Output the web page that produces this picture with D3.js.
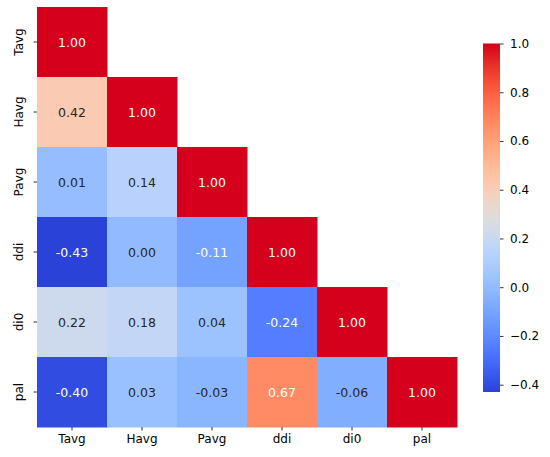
<!DOCTYPE html>
<html>
<head>
<meta charset="utf-8">
<script src="https://cdn.jsdelivr.net/npm/d3@7"></script>
<style>
  body { margin: 0; background: #fff; }
  text { font-family: "DejaVu Sans", sans-serif; }
</style>
</head>
<body>
<div></div>
<script>
// lower-triangle correlation heatmap, coolwarm colours, colorbar on the right

const variables = ['Tavg', 'Havg', 'Pavg', 'ddi', 'di0', 'pal'];

// rows of the lower triangle, diagonal included
const corrRows = [
  [1.00],
  [0.42, 1.00],
  [0.01, 0.14, 1.00],
  [-0.43, 0.00, -0.11, 1.00],
  [0.22, 0.18, 0.04, -0.24, 1.00],
  [-0.40, 0.03, -0.03, 0.67, -0.06, 1.00],
];

const colorbarTicks = [-0.4, -0.2, 0.0, 0.2, 0.4, 0.6, 0.8, 1.0];

// matplotlib coolwarm, 33 stops
const coolwarmStops = [
  [0.2298, 0.2987, 0.7537], [0.2662, 0.3531, 0.8015], [0.3039, 0.4065, 0.8450],
  [0.3428, 0.4588, 0.8837], [0.3830, 0.5094, 0.9174], [0.4244, 0.5581, 0.9456],
  [0.4667, 0.6046, 0.9682], [0.5096, 0.6483, 0.9848], [0.5530, 0.6889, 0.9954],
  [0.5963, 0.7261, 0.9998], [0.6392, 0.7596, 0.9982], [0.6813, 0.7890, 0.9904],
  [0.7222, 0.8140, 0.9766], [0.7615, 0.8343, 0.9569], [0.7987, 0.8498, 0.9317],
  [0.8335, 0.8602, 0.9011], [0.8654, 0.8654, 0.8654], [0.8978, 0.8489, 0.8209],
  [0.9241, 0.8274, 0.7745], [0.9445, 0.8009, 0.7267], [0.9589, 0.7698, 0.6780],
  [0.9673, 0.7341, 0.6288], [0.9700, 0.6943, 0.5794], [0.9668, 0.6504, 0.5303],
  [0.9580, 0.6028, 0.4818], [0.9437, 0.5518, 0.4342], [0.9239, 0.4973, 0.3880],
  [0.8990, 0.4396, 0.3432], [0.8692, 0.3783, 0.3003], [0.8346, 0.3129, 0.2593],
  [0.7956, 0.2413, 0.2205], [0.7525, 0.1572, 0.1841], [0.7057, 0.0156, 0.1502],
].map(c => {
  // the picture is a bit more saturated than stock coolwarm: push channels away from their mean
  const rgb = c.map(v => v * 255);
  const mean = (rgb[0] + rgb[1] + rgb[2]) / 3;
  const [r, g, b] = rgb.map(v => Math.max(0, Math.min(255, mean + 1.3 * (v - mean))));
  return d3.rgb(r, g, b);
});

const coolwarm = d3.scaleLinear()
  .domain(d3.range(coolwarmStops.length).map(i => i / (coolwarmStops.length - 1)))
  .range(coolwarmStops)
  .interpolate(d3.interpolateRgb)
  .clamp(true);

const cells = [];
corrRows.forEach((row, r) => {
  row.forEach((v, c) => cells.push({ row: variables[r], col: variables[c], value: v }));
});

const vmin = d3.min(cells, d => d.value);
const vmax = d3.max(cells, d => d.value);
const norm = d3.scaleLinear().domain([vmin, vmax]).range([0, 1]);
const colorOf = v => coolwarm(norm(v));

function luminance(c) {
  const ch = [c.r, c.g, c.b].map(x => {
    x /= 255;
    return x <= 0.03928 ? x / 12.92 : Math.pow((x + 0.055) / 1.055, 2.4);
  });
  return 0.2126 * ch[0] + 0.7152 * ch[1] + 0.0722 * ch[2];
}

function createHeatmap() {
  const WIDTH = 550, HEIGHT = 457;
  const grid = { left: 37, top: 7, size: 420 };

  const svg = d3.select('div').append('svg')
    .attr('width', WIDTH)
    .attr('height', HEIGHT);

  const x = d3.scaleBand().domain(variables).range([grid.left, grid.left + grid.size]);
  const y = d3.scaleBand().domain(variables).range([grid.top, grid.top + grid.size]);

  svg.append('g')
    .selectAll('rect')
    .data(cells)
    .enter()
    .append('rect')
    .attr('x', d => x(d.col))
    .attr('y', d => y(d.row))
    .attr('width', x.bandwidth() + 0.5)
    .attr('height', y.bandwidth() + 0.5)
    .attr('fill', d => colorOf(d.value));

  svg.append('g')
    .selectAll('text')
    .data(cells)
    .enter()
    .append('text')
    .attr('x', d => x(d.col) + x.bandwidth() / 2)
    .attr('y', d => y(d.row) + y.bandwidth() / 2)
    .attr('text-anchor', 'middle')
    .attr('dominant-baseline', 'central')
    .attr('font-size', 12.5)
    .attr('fill', d => luminance(d3.rgb(colorOf(d.value))) > 0.408 ? '#262626' : '#ffffff')
    .text(d => d.value.toFixed(2));

  const xAxis = svg.append('g')
    .attr('transform', `translate(0,${grid.top + grid.size})`)
    .call(d3.axisBottom(x).tickSize(3.5).tickPadding(3.5));
  xAxis.select('.domain').remove();
  xAxis.selectAll('text').attr('font-size', 12).attr('fill', '#000')
    .style('font-family', '"DejaVu Sans", sans-serif');
  xAxis.selectAll('line').attr('stroke', '#333');

  const yAxis = svg.append('g')
    .attr('transform', `translate(${grid.left},0)`)
    .call(d3.axisLeft(y).tickSize(3.5).tickPadding(0));
  yAxis.select('.domain').remove();
  yAxis.selectAll('line').attr('stroke', '#333');
  yAxis.selectAll('text')
    .attr('font-size', 12).attr('fill', '#000')
    .style('font-family', '"DejaVu Sans", sans-serif')
    .attr('x', null).attr('dy', null)
    .attr('text-anchor', 'middle')
    .attr('transform', 'translate(-14.5,0) rotate(-90)');

  // colorbar
  const cb = { x: 483, top: 43.5, bottom: 392, width: 17 };
  const cbScale = d3.scaleLinear().domain([vmin, vmax]).range([cb.bottom, cb.top]);

  const defs = svg.append('defs');
  const grad = defs.append('linearGradient')
    .attr('id', 'cbgrad')
    .attr('x1', 0).attr('y1', 1).attr('x2', 0).attr('y2', 0);
  grad.selectAll('stop')
    .data(d3.range(0, 1.0001, 1 / 64))
    .enter()
    .append('stop')
    .attr('offset', d => d)
    .attr('stop-color', d => coolwarm(d));

  svg.append('rect')
    .attr('x', cb.x)
    .attr('y', cb.top)
    .attr('width', cb.width)
    .attr('height', cb.bottom - cb.top)
    .attr('fill', 'url(#cbgrad)');

  const cbAxis = svg.append('g')
    .attr('transform', `translate(${cb.x + cb.width},0)`)
    .call(d3.axisRight(cbScale)
      .tickValues(colorbarTicks)
      .tickSize(3.5)
      .tickPadding(6.5)
      .tickFormat(d => d3.format('.1f')(d).replace('-', '\u2212')));
  cbAxis.select('.domain').remove();
  cbAxis.selectAll('line').attr('stroke', '#333');
  cbAxis.selectAll('text').attr('font-size', 12).attr('fill', '#000')
    .style('font-family', '"DejaVu Sans", sans-serif');
}

document.addEventListener('DOMContentLoaded', createHeatmap);
</script>
</body>
</html>
